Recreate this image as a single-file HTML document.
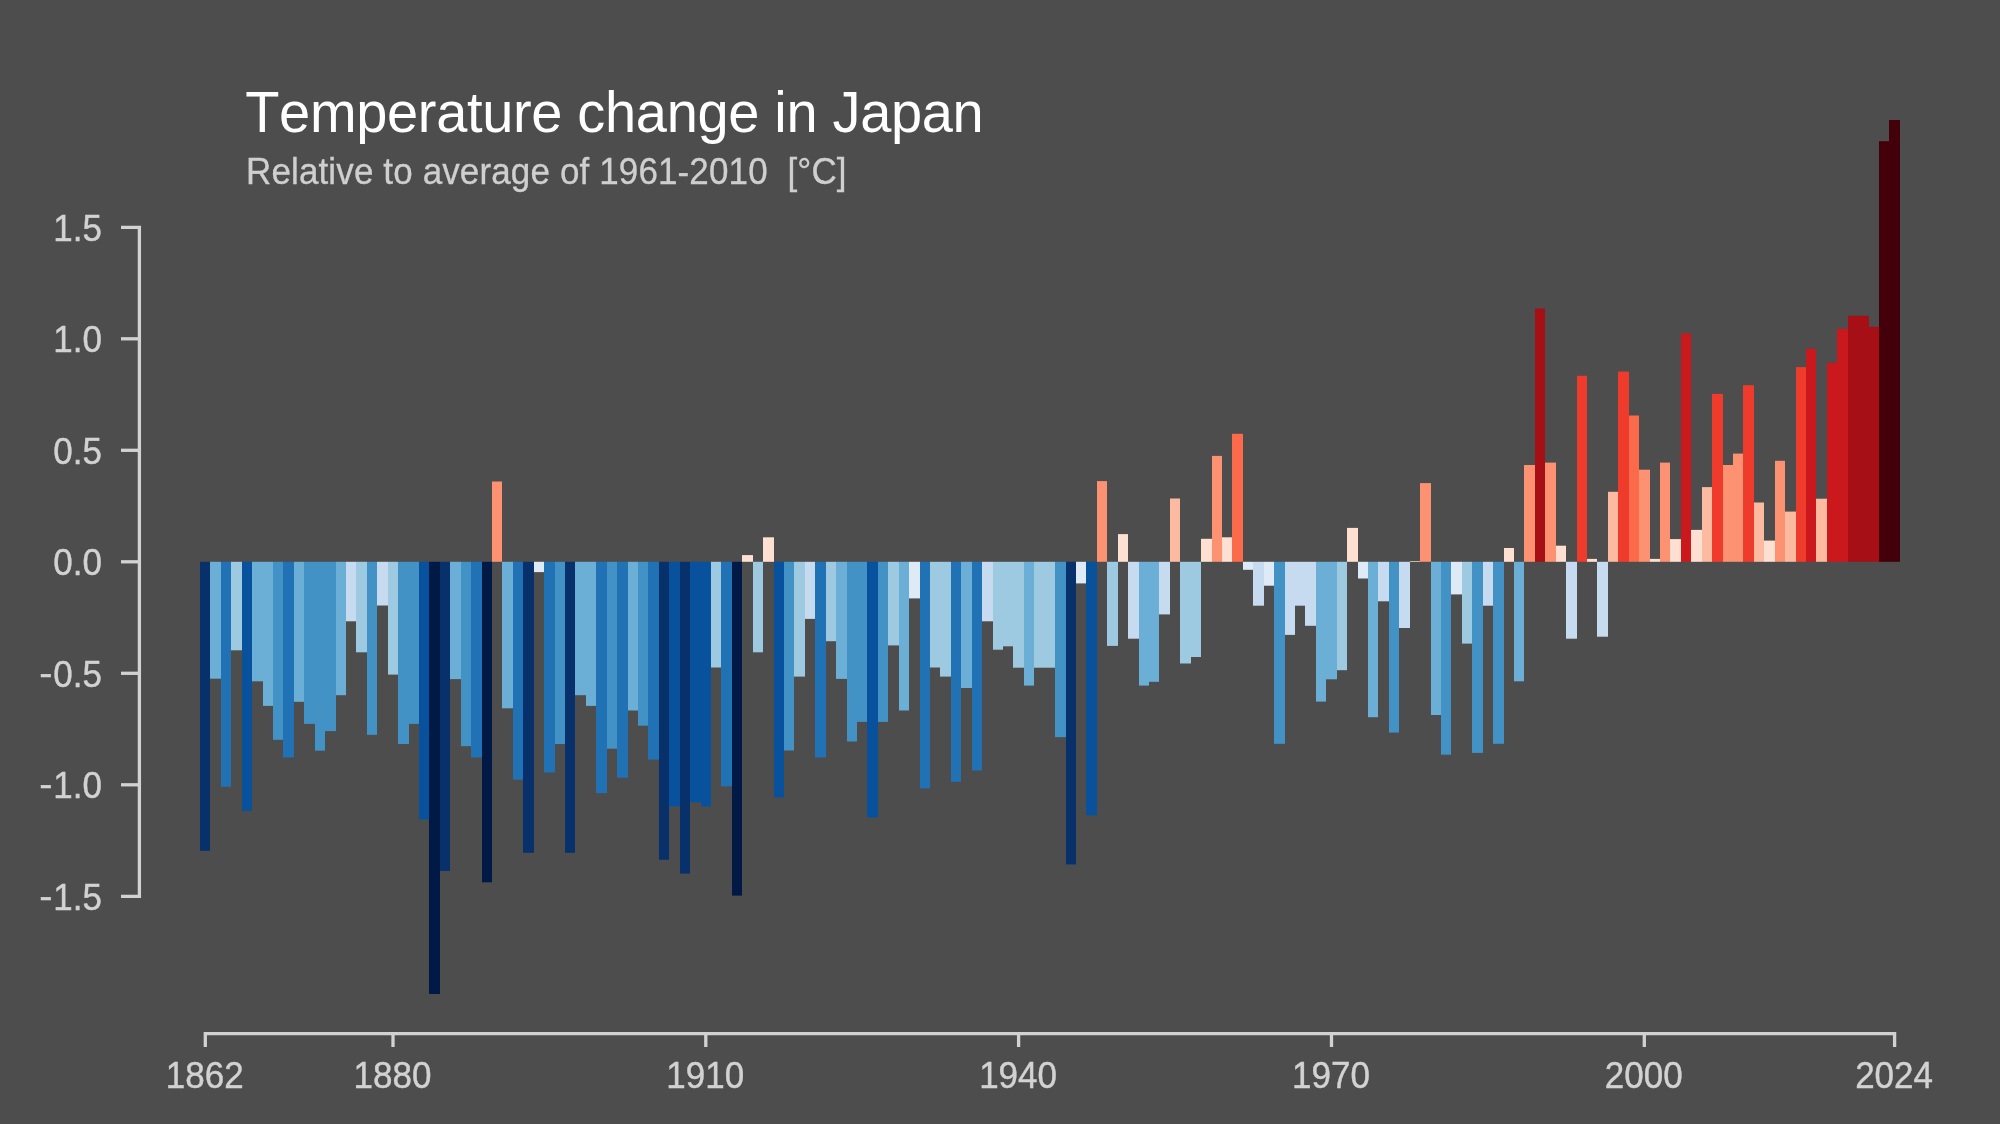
<!DOCTYPE html>
<html><head><meta charset="utf-8"><title>Temperature change in Japan</title>
<style>
html,body{margin:0;padding:0;background:#4d4d4d;}
.t{position:absolute;left:0;top:0;width:2000px;height:1124px;will-change:transform;}
body{width:2000px;height:1124px;position:relative;overflow:hidden;font-family:"Liberation Sans",sans-serif;}
svg{position:absolute;left:0;top:0;}
.title{position:absolute;left:245.2px;top:81.3px;font-size:56px;line-height:64px;letter-spacing:-0.33px;font-kerning:none;transform:scaleY(1.036);transform-origin:0 51.4px;color:#fff;white-space:pre;}
.sub{position:absolute;left:246px;top:152.2px;font-size:35px;line-height:40px;letter-spacing:0.13px;transform:scaleY(1.03);transform-origin:0 31.6px;-webkit-text-stroke:0.3px #cfcfcf;color:#cfcfcf;white-space:pre;}
.yl{position:absolute;left:0;width:102px;text-align:right;font-size:35px;line-height:40px;height:40px;color:#d2d2d2;transform:scaleY(1.06);-webkit-text-stroke:0.4px #d2d2d2;}
.m{display:inline-block;transform:translateY(-1.2px) scaleX(1.14);transform-origin:100% 50%;margin-right:1px;}
.xl{position:absolute;top:1055px;width:120px;text-align:center;font-size:35px;line-height:40px;height:40px;color:#d2d2d2;transform:scaleY(1.06);-webkit-text-stroke:0.4px #d2d2d2;}
</style></head><body>
<svg width="2000" height="1124" viewBox="0 0 2000 1124">
<g shape-rendering="auto">
<rect x="200" y="561.8" width="10" height="289.0" fill="#08306b"/>
<rect x="210" y="561.8" width="11" height="116.9" fill="#6baed6"/>
<rect x="221" y="561.8" width="10" height="225.0" fill="#2171b5"/>
<rect x="231" y="561.8" width="11" height="88.5" fill="#9ecae1"/>
<rect x="242" y="561.8" width="10" height="249.1" fill="#08519c"/>
<rect x="252" y="561.8" width="11" height="119.5" fill="#6baed6"/>
<rect x="263" y="561.8" width="10" height="144.1" fill="#6baed6"/>
<rect x="273" y="561.8" width="10" height="178.0" fill="#4292c6"/>
<rect x="283" y="561.8" width="11" height="195.6" fill="#2171b5"/>
<rect x="294" y="561.8" width="10" height="140.0" fill="#6baed6"/>
<rect x="304" y="561.8" width="11" height="162.1" fill="#4292c6"/>
<rect x="315" y="561.8" width="10" height="188.9" fill="#4292c6"/>
<rect x="325" y="561.8" width="11" height="169.3" fill="#4292c6"/>
<rect x="336" y="561.8" width="10" height="133.4" fill="#6baed6"/>
<rect x="346" y="561.8" width="10" height="59.5" fill="#c6dbef"/>
<rect x="356" y="561.8" width="11" height="90.5" fill="#9ecae1"/>
<rect x="367" y="561.8" width="10" height="173.0" fill="#4292c6"/>
<rect x="377" y="561.8" width="11" height="43.7" fill="#c6dbef"/>
<rect x="388" y="561.8" width="10" height="112.8" fill="#9ecae1"/>
<rect x="398" y="561.8" width="11" height="182.2" fill="#4292c6"/>
<rect x="409" y="561.8" width="10" height="162.1" fill="#4292c6"/>
<rect x="419" y="561.8" width="10" height="257.6" fill="#08519c"/>
<rect x="429" y="561.8" width="11" height="432.2" fill="#011945"/>
<rect x="440" y="561.8" width="10" height="309.1" fill="#08306b"/>
<rect x="450" y="561.8" width="11" height="117.3" fill="#6baed6"/>
<rect x="461" y="561.8" width="10" height="184.4" fill="#4292c6"/>
<rect x="471" y="561.8" width="11" height="195.6" fill="#2171b5"/>
<rect x="482" y="561.8" width="10" height="320.5" fill="#011945"/>
<rect x="492" y="481.5" width="10" height="80.3" fill="#fc9272"/>
<rect x="502" y="561.8" width="11" height="146.5" fill="#6baed6"/>
<rect x="513" y="561.8" width="10" height="217.9" fill="#2171b5"/>
<rect x="523" y="561.8" width="11" height="291.0" fill="#08306b"/>
<rect x="534" y="561.8" width="10" height="10.3" fill="#deebf7"/>
<rect x="544" y="561.8" width="11" height="210.7" fill="#2171b5"/>
<rect x="555" y="561.8" width="10" height="182.2" fill="#4292c6"/>
<rect x="565" y="561.8" width="10" height="291.0" fill="#08306b"/>
<rect x="575" y="561.8" width="11" height="133.4" fill="#6baed6"/>
<rect x="586" y="561.8" width="10" height="144.1" fill="#6baed6"/>
<rect x="596" y="561.8" width="11" height="231.3" fill="#2171b5"/>
<rect x="607" y="561.8" width="10" height="186.9" fill="#4292c6"/>
<rect x="617" y="561.8" width="11" height="215.9" fill="#2171b5"/>
<rect x="628" y="561.8" width="10" height="148.7" fill="#6baed6"/>
<rect x="638" y="561.8" width="10" height="163.9" fill="#4292c6"/>
<rect x="648" y="561.8" width="11" height="197.8" fill="#2171b5"/>
<rect x="659" y="561.8" width="10" height="297.9" fill="#08306b"/>
<rect x="669" y="561.8" width="11" height="244.6" fill="#08519c"/>
<rect x="680" y="561.8" width="10" height="311.8" fill="#08306b"/>
<rect x="690" y="561.8" width="11" height="240.4" fill="#08519c"/>
<rect x="701" y="561.8" width="10" height="244.6" fill="#08519c"/>
<rect x="711" y="561.8" width="10" height="105.7" fill="#9ecae1"/>
<rect x="721" y="561.8" width="11" height="224.6" fill="#2171b5"/>
<rect x="732" y="561.8" width="10" height="333.8" fill="#011945"/>
<rect x="742" y="555.1" width="11" height="6.7" fill="#fee0d2"/>
<rect x="753" y="561.8" width="10" height="90.5" fill="#9ecae1"/>
<rect x="763" y="537.3" width="11" height="24.5" fill="#fee0d2"/>
<rect x="774" y="561.8" width="10" height="235.5" fill="#08519c"/>
<rect x="784" y="561.8" width="10" height="188.7" fill="#4292c6"/>
<rect x="794" y="561.8" width="11" height="114.8" fill="#9ecae1"/>
<rect x="805" y="561.8" width="10" height="57.1" fill="#c6dbef"/>
<rect x="815" y="561.8" width="11" height="195.6" fill="#2171b5"/>
<rect x="826" y="561.8" width="10" height="79.4" fill="#9ecae1"/>
<rect x="836" y="561.8" width="11" height="117.1" fill="#6baed6"/>
<rect x="847" y="561.8" width="10" height="179.7" fill="#4292c6"/>
<rect x="857" y="561.8" width="10" height="160.1" fill="#4292c6"/>
<rect x="867" y="561.8" width="11" height="255.6" fill="#08519c"/>
<rect x="878" y="561.8" width="10" height="160.1" fill="#4292c6"/>
<rect x="888" y="561.8" width="11" height="83.6" fill="#9ecae1"/>
<rect x="899" y="561.8" width="10" height="148.7" fill="#6baed6"/>
<rect x="909" y="561.8" width="11" height="36.6" fill="#deebf7"/>
<rect x="920" y="561.8" width="10" height="226.6" fill="#2171b5"/>
<rect x="930" y="561.8" width="10" height="105.7" fill="#9ecae1"/>
<rect x="940" y="561.8" width="11" height="114.8" fill="#9ecae1"/>
<rect x="951" y="561.8" width="10" height="220.1" fill="#2171b5"/>
<rect x="961" y="561.8" width="11" height="126.2" fill="#6baed6"/>
<rect x="972" y="561.8" width="10" height="208.7" fill="#2171b5"/>
<rect x="982" y="561.8" width="11" height="59.5" fill="#c6dbef"/>
<rect x="993" y="561.8" width="10" height="87.9" fill="#9ecae1"/>
<rect x="1003" y="561.8" width="10" height="84.5" fill="#9ecae1"/>
<rect x="1013" y="561.8" width="11" height="105.9" fill="#9ecae1"/>
<rect x="1024" y="561.8" width="10" height="123.8" fill="#6baed6"/>
<rect x="1034" y="561.8" width="11" height="105.9" fill="#9ecae1"/>
<rect x="1045" y="561.8" width="10" height="105.9" fill="#9ecae1"/>
<rect x="1055" y="561.8" width="11" height="175.3" fill="#4292c6"/>
<rect x="1066" y="561.8" width="10" height="302.6" fill="#08306b"/>
<rect x="1076" y="561.8" width="10" height="21.6" fill="#deebf7"/>
<rect x="1086" y="561.8" width="11" height="253.6" fill="#08519c"/>
<rect x="1097" y="481.1" width="10" height="80.7" fill="#fc9272"/>
<rect x="1107" y="561.8" width="11" height="84.1" fill="#9ecae1"/>
<rect x="1118" y="534.1" width="10" height="27.7" fill="#fee0d2"/>
<rect x="1128" y="561.8" width="11" height="76.9" fill="#c6dbef"/>
<rect x="1139" y="561.8" width="10" height="123.8" fill="#6baed6"/>
<rect x="1149" y="561.8" width="10" height="120.0" fill="#6baed6"/>
<rect x="1159" y="561.8" width="11" height="52.6" fill="#c6dbef"/>
<rect x="1170" y="498.5" width="10" height="63.3" fill="#fcbba1"/>
<rect x="1180" y="561.8" width="11" height="101.7" fill="#9ecae1"/>
<rect x="1191" y="561.8" width="10" height="95.2" fill="#9ecae1"/>
<rect x="1201" y="538.8" width="11" height="23.0" fill="#fee0d2"/>
<rect x="1212" y="455.9" width="10" height="105.9" fill="#fc9272"/>
<rect x="1222" y="537.3" width="10" height="24.5" fill="#fee0d2"/>
<rect x="1232" y="433.8" width="11" height="128.0" fill="#fb6a4a"/>
<rect x="1243" y="561.8" width="10" height="8.0" fill="#deebf7"/>
<rect x="1253" y="561.8" width="11" height="43.9" fill="#c6dbef"/>
<rect x="1264" y="561.8" width="10" height="23.9" fill="#deebf7"/>
<rect x="1274" y="561.8" width="11" height="182.0" fill="#4292c6"/>
<rect x="1285" y="561.8" width="10" height="73.1" fill="#c6dbef"/>
<rect x="1295" y="561.8" width="10" height="43.9" fill="#c6dbef"/>
<rect x="1305" y="561.8" width="11" height="64.0" fill="#c6dbef"/>
<rect x="1316" y="561.8" width="10" height="139.8" fill="#6baed6"/>
<rect x="1326" y="561.8" width="11" height="117.5" fill="#6baed6"/>
<rect x="1337" y="561.8" width="10" height="108.4" fill="#9ecae1"/>
<rect x="1347" y="527.9" width="11" height="33.9" fill="#fee0d2"/>
<rect x="1358" y="561.8" width="10" height="16.7" fill="#deebf7"/>
<rect x="1368" y="561.8" width="10" height="155.4" fill="#6baed6"/>
<rect x="1378" y="561.8" width="11" height="39.5" fill="#c6dbef"/>
<rect x="1389" y="561.8" width="10" height="170.8" fill="#4292c6"/>
<rect x="1399" y="561.8" width="11" height="66.2" fill="#c6dbef"/>
<rect x="1410" y="561.1" width="10" height="0.7" fill="#fee0d2"/>
<rect x="1420" y="483.1" width="11" height="78.7" fill="#fc9272"/>
<rect x="1431" y="561.8" width="10" height="153.2" fill="#6baed6"/>
<rect x="1441" y="561.8" width="10" height="192.9" fill="#4292c6"/>
<rect x="1451" y="561.8" width="11" height="32.6" fill="#deebf7"/>
<rect x="1462" y="561.8" width="10" height="81.8" fill="#9ecae1"/>
<rect x="1472" y="561.8" width="11" height="191.1" fill="#4292c6"/>
<rect x="1483" y="561.8" width="10" height="43.9" fill="#c6dbef"/>
<rect x="1493" y="561.8" width="11" height="182.0" fill="#4292c6"/>
<rect x="1504" y="548.0" width="10" height="13.8" fill="#fee0d2"/>
<rect x="1514" y="561.8" width="10" height="119.5" fill="#6baed6"/>
<rect x="1524" y="465.0" width="11" height="96.8" fill="#fc9272"/>
<rect x="1535" y="308.5" width="10" height="253.3" fill="#a50f15"/>
<rect x="1545" y="462.6" width="11" height="99.2" fill="#fc9272"/>
<rect x="1556" y="545.7" width="10" height="16.1" fill="#fee0d2"/>
<rect x="1566" y="561.8" width="11" height="76.9" fill="#c6dbef"/>
<rect x="1577" y="375.8" width="10" height="186.0" fill="#ef3b2c"/>
<rect x="1587" y="558.9" width="10" height="2.9" fill="#fee0d2"/>
<rect x="1597" y="561.8" width="11" height="74.9" fill="#c6dbef"/>
<rect x="1608" y="491.8" width="10" height="70.0" fill="#fcbba1"/>
<rect x="1618" y="371.6" width="11" height="190.2" fill="#ef3b2c"/>
<rect x="1629" y="415.5" width="10" height="146.3" fill="#fb6a4a"/>
<rect x="1639" y="469.7" width="11" height="92.1" fill="#fc9272"/>
<rect x="1650" y="558.9" width="10" height="2.9" fill="#fee0d2"/>
<rect x="1660" y="462.6" width="10" height="99.2" fill="#fc9272"/>
<rect x="1670" y="539.1" width="11" height="22.7" fill="#fee0d2"/>
<rect x="1681" y="333.4" width="10" height="228.4" fill="#cb181d"/>
<rect x="1691" y="529.9" width="11" height="31.9" fill="#fee0d2"/>
<rect x="1702" y="487.1" width="10" height="74.7" fill="#fcbba1"/>
<rect x="1712" y="393.9" width="11" height="167.9" fill="#ef3b2c"/>
<rect x="1723" y="465.0" width="10" height="96.8" fill="#fc9272"/>
<rect x="1733" y="453.6" width="10" height="108.2" fill="#fc9272"/>
<rect x="1743" y="385.2" width="11" height="176.6" fill="#ef3b2c"/>
<rect x="1754" y="502.5" width="10" height="59.3" fill="#fcbba1"/>
<rect x="1764" y="540.6" width="11" height="21.2" fill="#fee0d2"/>
<rect x="1775" y="460.8" width="10" height="101.0" fill="#fc9272"/>
<rect x="1785" y="511.6" width="11" height="50.2" fill="#fcbba1"/>
<rect x="1796" y="367.1" width="10" height="194.7" fill="#ef3b2c"/>
<rect x="1806" y="348.8" width="10" height="213.0" fill="#cb181d"/>
<rect x="1816" y="498.7" width="11" height="63.1" fill="#fcbba1"/>
<rect x="1827" y="362.7" width="10" height="199.1" fill="#cb181d"/>
<rect x="1837" y="328.8" width="11" height="233.0" fill="#cb181d"/>
<rect x="1848" y="315.8" width="10" height="246.0" fill="#a50f15"/>
<rect x="1858" y="315.8" width="11" height="246.0" fill="#a50f15"/>
<rect x="1869" y="326.8" width="10" height="235.0" fill="#a50f15"/>
<rect x="1879" y="141.2" width="10" height="420.6" fill="#43000a"/>
<rect x="1889" y="120.0" width="11" height="441.8" fill="#43000a"/>
</g>
<g>
<path d="M121 227.3H139.4V896.3H121" fill="none" stroke="#d2d2d2" stroke-width="3.3"/>
<path d="M121 338.8H139.4" stroke="#d2d2d2" stroke-width="3.3"/>
<path d="M121 450.3H139.4" stroke="#d2d2d2" stroke-width="3.3"/>
<path d="M121 561.8H139.4" stroke="#d2d2d2" stroke-width="3.3"/>
<path d="M121 673.3H139.4" stroke="#d2d2d2" stroke-width="3.3"/>
<path d="M121 784.8H139.4" stroke="#d2d2d2" stroke-width="3.3"/>
<path d="M205.3 1047V1033.7H1894.6V1047" fill="none" stroke="#d2d2d2" stroke-width="3.3"/>
<path d="M393.0 1033.7V1047" stroke="#d2d2d2" stroke-width="3.3"/>
<path d="M705.8 1033.7V1047" stroke="#d2d2d2" stroke-width="3.3"/>
<path d="M1018.6 1033.7V1047" stroke="#d2d2d2" stroke-width="3.3"/>
<path d="M1331.5 1033.7V1047" stroke="#d2d2d2" stroke-width="3.3"/>
<path d="M1644.3 1033.7V1047" stroke="#d2d2d2" stroke-width="3.3"/>
</g>
</svg>
<div class="t">
<div class="title">Temperature change in Japan</div>
<div class="sub">Relative to average of 1961-2010  [°C]</div>
<div class="yl" style="top:207.6px">1.5</div>
<div class="yl" style="top:319.1px">1.0</div>
<div class="yl" style="top:430.6px">0.5</div>
<div class="yl" style="top:542.1px">0.0</div>
<div class="yl" style="top:653.6px"><span class="m">-</span>0.5</div>
<div class="yl" style="top:765.1px"><span class="m">-</span>1.0</div>
<div class="yl" style="top:876.6px"><span class="m">-</span>1.5</div>
<div class="xl" style="left:144.8px">1862</div>
<div class="xl" style="left:332.5px">1880</div>
<div class="xl" style="left:645.3px">1910</div>
<div class="xl" style="left:958.1px">1940</div>
<div class="xl" style="left:1271.0px">1970</div>
<div class="xl" style="left:1583.8px">2000</div>
<div class="xl" style="left:1834.1px">2024</div>
</div>
</body></html>
